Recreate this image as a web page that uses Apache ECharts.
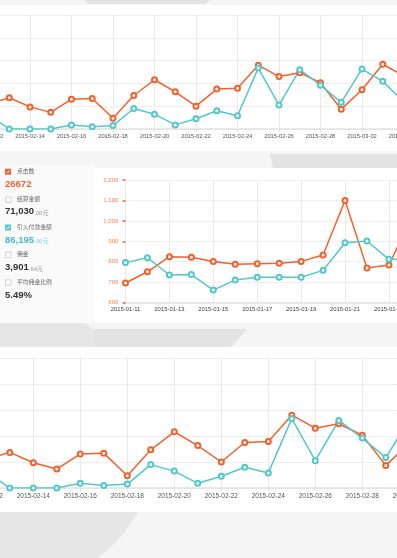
<!DOCTYPE html>
<html><head><meta charset="utf-8">
<script src="https://cdn.jsdelivr.net/npm/echarts@6/dist/echarts.min.js"></script>
<style>html,body{margin:0;padding:0;background:#f5f5f5}#c{width:397px;height:558px}</style>
</head><body><div id="c"></div>
<script>
// Feb–Mar daily data (top and bottom charts show the same series)
const febDates = ['2015-02-12','2015-02-13','2015-02-14','2015-02-15','2015-02-16','2015-02-17','2015-02-18','2015-02-19','2015-02-20','2015-02-21','2015-02-22','2015-02-23','2015-02-24','2015-02-25','2015-02-26','2015-02-27','2015-02-28','2015-03-01','2015-03-02','2015-03-03','2015-03-04'];
const febClicks = [110,137,97,73,131,134,47,147,216,163,100,175,179,280,230,247,203,87,172,284,234];
const febPaid   = [62,0,0,0,18,10,15,90,65,18,45,80,58,267,105,260,192,117,263,209,120];

// January daily data (middle chart)
const janDates = ['2015-01-11','2015-01-12','2015-01-13','2015-01-14','2015-01-15','2015-01-16','2015-01-17','2015-01-18','2015-01-19','2015-01-20','2015-01-21','2015-01-22','2015-01-23','2015-01-24'];
const janClicks = [695,750,824,821,800,787,790,792,801,832,1100,768,783,1010];
const janPaid   = [795,819,734,736,660,710,723,723,723,757,893,901,811,811];

// Left panel figures
const panelLabels = ['点击数','结算金额','引入付款金额','佣金','平均佣金比例'];
const panelMain = ['26672','71,030','86,195','3,901','5.49%'];
const panelSuffix = ['','.00元','.00元','.64元',''];
const panelChecked = [true,false,true,false,false];

const ORANGE = '#f2602c', TEAL = '#52c8ca';
const FONT = '"Liberation Sans", "Noto Sans CJK SC", sans-serif';

const chart = echarts.init(document.getElementById('c'), null, {renderer:'canvas'});

function xAx(grid, data, fs, margin, color){
  return {type:'category', gridIndex:grid, data:data, boundaryGap:false,
    axisLine:{show:true, lineStyle:{color:'#e2e2e2', width:1.5}},
    axisTick:{show:true, interval:1, length:3, lineStyle:{color:'#e2e2e2'}},
    axisLabel:{interval:1, fontSize:fs, color:color, margin:margin, fontFamily:FONT, hideOverlap:false},
    splitLine:{show:true, interval:1, lineStyle:{color:'#e9e9e9', width:1}}};
}
function lineSeries(xi, data, color){
  return {type:'line', xAxisIndex:xi, yAxisIndex:xi, data:data, symbol:'emptyCircle', symbolSize:5,
    showAllSymbol:true, lineStyle:{color:color, width:1.5},
    itemStyle:{color:color, borderColor:color, borderWidth:1.1}, z:5};
}

const graphics = [];
graphics.push({type:'rect', shape:{x:0,y:0,width:397,height:558}, style:{fill:'#f5f5f5'}, z:-30, silent:true});
graphics.push({type:'circle', shape:{cx:15,cy:445,r:140}, style:{fill:'#e6e6e6'}, z:-25, silent:true});
graphics.push({type:'polygon', shape:{points:[[85,0],[210,0],[205,4],[88,4]]}, style:{fill:'#e3e3e3'}, z:-25, silent:true});
graphics.push({type:'polygon', shape:{points:[[270,154],[397,154],[397,168],[273,168]]}, style:{fill:'#e3e3e3'}, z:-25, silent:true});
graphics.push({type:'polygon', shape:{points:[[93,329],[247,329],[231,347],[95,347]]}, style:{fill:'#e3e3e3'}, z:-25, silent:true});
graphics.push({type:'rect', shape:{x:0,y:5,width:397,height:146}, style:{fill:'#ffffff'}, z:-20, silent:true});
graphics.push({type:'rect', shape:{x:0,y:165,width:95,height:158}, style:{fill:'#fafafa'}, z:-20, silent:true});
graphics.push({type:'rect', shape:{x:95,y:168,width:302,height:155}, style:{fill:'#ffffff'}, z:-20, silent:true});
graphics.push({type:'rect', shape:{x:0,y:347,width:397,height:165}, style:{fill:'#ffffff'}, z:-20, silent:true});

const cbY = [171.7,199.5,227.5,254.7,282.3];
const numY = [184,211.7,240,267.7,295];
const numColor = [ORANGE,'#333333','#3fbfc2','#333333','#333333'];
panelLabels.forEach((lab,i)=>{
  const cy = cbY[i];
  if(panelChecked[i]){
    const c = i===0 ? ORANGE : TEAL;
    graphics.push({type:'rect', shape:{x:5,y:cy-3,width:6,height:6}, style:{fill:c}, z:10, silent:true});
    graphics.push({type:'polyline', shape:{points:[[6.4,cy],[7.6,cy+1.3],[9.8,cy-1.5]]}, style:{stroke:'#fff', lineWidth:1, fill:null}, z:11, silent:true});
  } else {
    graphics.push({type:'rect', shape:{x:5.5,y:cy-2.5,width:5.5,height:5.5}, style:{fill:'#fff', stroke:'#c4c4c4', lineWidth:0.8}, z:10, silent:true});
  }
  graphics.push({type:'text', style:{text:lab, x:17, y:cy, verticalAlign:'middle', fill:'#666', fontSize:5.8, fontFamily:FONT}, z:10, silent:true});
  const sufColor = i===2 ? '#7fd3d5' : '#999';
  graphics.push({type:'text', style:{
    text:'{b|'+panelMain[i]+'}' + (panelSuffix[i] ? '{s|'+panelSuffix[i]+'}' : ''),
    x:5, y:numY[i], verticalAlign:'middle',
    rich:{b:{fontSize:9.5, fontWeight:'bold', fill:numColor[i], fontFamily:FONT, verticalAlign:'bottom'},
          s:{fontSize:6, fill:sufColor, fontFamily:FONT, verticalAlign:'bottom', padding:[0,0,0.5,0]}}
  }, z:10, silent:true});
});

const option = {
  animation:false,
  backgroundColor:'transparent',
  graphic:{elements:graphics},
  grid:[
    {left:-11.5, right:-6.5, top:15, bottom:558-129, containLabel:false, outerBoundsMode:'none'},
    {left:125.5, right:-13.9, top:180.2, bottom:558-302.3, containLabel:false, outerBoundsMode:'none'},
    {left:-13.7, right:-59.3, top:358, bottom:558-488, containLabel:false, outerBoundsMode:'none'}
  ],
  xAxis:[
    xAx(0, febDates, 5.8, 4, '#555'),
    Object.assign(xAx(1, janDates, 5.9, 4.5, '#444'), {axisTick:{show:false}}),
    xAx(2, febDates, 6.5, 5, '#555')
  ],
  yAxis:[
    {type:'value', gridIndex:0, min:0, max:500, interval:100, axisLabel:{show:false}, axisLine:{show:false}, axisTick:{show:false},
      splitLine:{lineStyle:{type:'dotted', color:'#dedede'}}},
    {type:'value', gridIndex:1, min:600, max:1200, interval:100,
      axisLabel:{color:'#f48458', fontSize:6.1, margin:7, fontFamily:FONT, formatter:v=>v.toLocaleString('en-US')},
      axisLine:{show:false}, axisTick:{show:true, length:3, lineStyle:{color:ORANGE, width:1.5}},
      splitLine:{lineStyle:{type:'dotted', color:'#dedede'}}},
    {type:'value', gridIndex:2, min:0, max:500, interval:100, axisLabel:{show:false}, axisLine:{show:false}, axisTick:{show:false},
      splitLine:{lineStyle:{type:'dotted', color:'#dedede'}}}
  ],
  series:[
    lineSeries(0, febClicks, ORANGE),
    lineSeries(0, febPaid, TEAL),
    lineSeries(1, janClicks, ORANGE),
    lineSeries(1, janPaid, TEAL),
    lineSeries(2, febClicks, ORANGE),
    lineSeries(2, febPaid, TEAL)
  ]
};
chart.setOption(option);
</script>
</body></html>
